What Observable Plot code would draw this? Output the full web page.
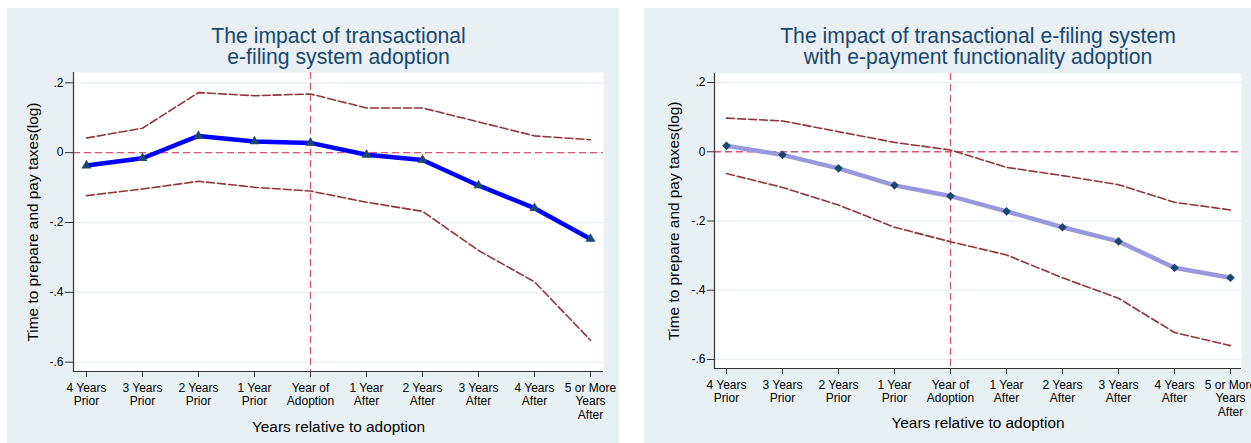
<!DOCTYPE html>
<html><head><meta charset="utf-8">
<script src="https://cdn.jsdelivr.net/npm/d3@7"></script>
<script src="https://cdn.jsdelivr.net/npm/@observablehq/plot@0.6"></script>
<style>
html,body{margin:0;padding:0;background:#fff;overflow:hidden;}
#root{position:relative;width:1251px;height:443px;}
.panel{position:absolute;top:8px;height:435px;background:#E8F0F3;}
.panel svg{position:absolute;left:0;top:0;}
</style></head><body><div id="root">
<div class="panel" id="left" style="left:7px;width:612px"></div>
<div class="panel" id="right" style="left:644px;width:607px"></div>
</div>
<script>
// Categories (x axis tick labels)
const periods = ["4 Years\nPrior", "3 Years\nPrior", "2 Years\nPrior", "1 Year\nPrior", "Year of\nAdoption",
  "1 Year\nAfter", "2 Years\nAfter", "3 Years\nAfter", "4 Years\nAfter", "5 or More\nYears\nAfter"];
const adoptionPeriod = "Year of\nAdoption";

// Y ticks
const yTicks = [0.2, 0, -0.2, -0.4, -0.6];
const yTickLabels = [".2", "0", "-.2", "-.4", "-.6"];

// Left panel: transactional e-filing system adoption
const titleA = "The impact of transactional\ne-filing system adoption";
const coefA  = [-0.037, -0.016, 0.048, 0.032, 0.028, -0.006, -0.021, -0.094, -0.159, -0.247];
const upperA = [0.042, 0.070, 0.172, 0.163, 0.168, 0.128, 0.128, 0.088, 0.048, 0.037];
const lowerA = [-0.123, -0.104, -0.082, -0.099, -0.110, -0.142, -0.168, -0.280, -0.370, -0.537];

// Right panel: with e-payment functionality
const titleB = "The impact of transactional e-filing system\nwith e-payment functionality adoption";
const coefB  = [0.017, -0.009, -0.048, -0.097, -0.128, -0.172, -0.218, -0.259, -0.335, -0.364];
const upperB = [0.097, 0.089, 0.058, 0.027, 0.005, -0.045, -0.069, -0.095, -0.146, -0.168];
const lowerB = [-0.063, -0.103, -0.154, -0.218, -0.260, -0.298, -0.364, -0.423, -0.522, -0.560];

const yLabel = "Time to prepare and pay taxes(log)";
const xLabel = "Years relative to adoption";

const BG = "#E9F1F3";
const NAVY = "#1A476F";
const CI = "#90353B";
const REF = "#DB5478";
const AXIS = "#333333";
const FONT = "'Liberation Sans', Arial, Helvetica, sans-serif";

function panel(cfg) {
  const rows = periods.map((p, i) => ({period: p, coef: cfg.coef[i], hi: cfg.hi[i], lo: cfg.lo[i]}));
  return Plot.plot({
    width: cfg.width, height: 435,
    marginTop: cfg.mt, marginBottom: cfg.mb, marginLeft: cfg.ml, marginRight: cfg.mr,
    style: {background: "transparent", fontFamily: FONT, overflow: "visible", color: "#000"},
    x: {type: "point", domain: periods, padding: cfg.pad, label: null},
    y: {domain: cfg.ydom, label: null},
    marks: [
      Plot.frame({fill: "white", stroke: null}),
      Plot.ruleY(yTicks, {stroke: BG, strokeWidth: 1.6}),
      Plot.ruleY([0], {stroke: REF, strokeWidth: 1.3, strokeDasharray: "7,4"}),
      Plot.ruleX([adoptionPeriod], {stroke: REF, strokeWidth: 1.3, strokeDasharray: "7,4"}),
      Plot.line(rows, {x: "period", y: "hi", stroke: CI, strokeWidth: 1.6, strokeDasharray: "8,3"}),
      Plot.line(rows, {x: "period", y: "lo", stroke: CI, strokeWidth: 1.6, strokeDasharray: "8,3"}),
      Plot.line(rows, {x: "period", y: "coef", stroke: cfg.lineColor, strokeWidth: 4.5}),
      Plot.dot(rows, {x: "period", y: "coef", symbol: cfg.symbol, r: cfg.r, fill: NAVY, stroke: null}),
      Plot.ruleY([cfg.ydom[0]], {stroke: AXIS, strokeWidth: 1.2}),
      Plot.frame({anchor: "left", stroke: AXIS, strokeWidth: 1.2}),
      Plot.axisY({ticks: yTicks, tickFormat: (d) => yTickLabels[yTicks.indexOf(d)], tickSize: cfg.yts, tickPadding: 2,
        fontSize: 12, stroke: AXIS, label: null}),
      Plot.axisX({tickSize: 6, tickPadding: 5, fontSize: 12, lineHeight: 1.12, stroke: AXIS, label: null}),
      Plot.text([xLabel], {frameAnchor: "bottom", lineAnchor: "bottom", dy: cfg.xdy, fontSize: 15.4}),
      Plot.text([yLabel], {frameAnchor: "left", textAnchor: "middle", rotate: -90, dx: cfg.ydx, fontSize: 15.4}),
      Plot.text([cfg.title], {frameAnchor: "top", lineAnchor: "bottom", dy: cfg.tdy, fontSize: 21.2,
        lineHeight: 0.99, fill: NAVY})
    ]
  });
}

document.getElementById("left").appendChild(panel({
  width: 612, mt: 64, mb: 72, ml: 66, mr: 16, pad: 0.182, ydom: [-0.6266, 0.2295],
  coef: coefA, hi: upperA, lo: lowerA, lineColor: "#0000FF", symbol: "triangle", r: 3.7,
  yts: 8, xdy: 60.5, ydx: -40, tdy: -9, title: titleA
}));
document.getElementById("right").appendChild(panel({
  width: 607, mt: 65, mb: 75, ml: 70, mr: 10, pad: 0.1775, ydom: [-0.626, 0.226],
  coef: coefB, hi: upperB, lo: lowerB, lineColor: "#9A98DC", symbol: "diamond2", r: 3.9,
  yts: 7, xdy: 59, ydx: -40.5, tdy: -10, title: titleB
}));
</script></body></html>
